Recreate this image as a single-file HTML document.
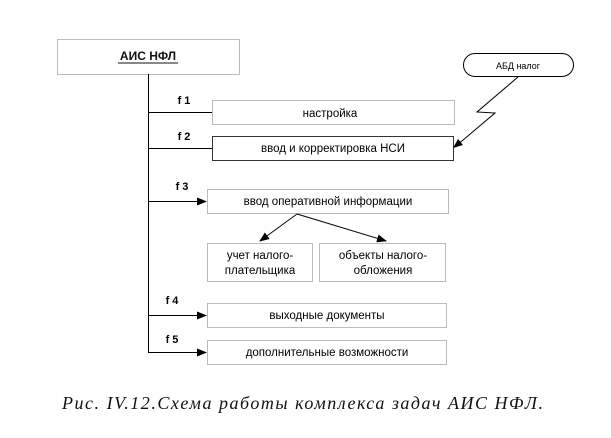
<!DOCTYPE html>
<html><head><meta charset="utf-8"><style>
html,body{margin:0;padding:0;background:#fff;}
svg{display:block;}
</style></head><body>
<svg width="611" height="438" viewBox="0 0 611 438" xmlns="http://www.w3.org/2000/svg" font-family="'Liberation Sans', sans-serif">
<defs>
<marker id="a" markerWidth="10" markerHeight="8" refX="9" refY="4" orient="auto" markerUnits="userSpaceOnUse">
<path d="M0,0 L10,4 L0,8 z" fill="#000"/>
</marker>
</defs>
<rect width="611" height="438" fill="#fff"/>
<rect x="57.5" y="39.5" width="182" height="35" fill="#fff" stroke="#bbb"/>
<text x="148" y="60" font-size="12" font-weight="bold" text-anchor="middle" fill="#111">АИС НФЛ</text>
<line x1="118" y1="63" x2="178" y2="63" stroke="#111" stroke-width="1"/>
<line x1="148.5" y1="74" x2="148.5" y2="352.5" stroke="#000"/>
<text x="184" y="104" font-size="11" font-weight="bold" text-anchor="middle">f 1</text>
<line x1="148" y1="112.5" x2="212" y2="112.5" stroke="#000"/>
<rect x="212.5" y="100.5" width="242" height="24" fill="#fff" stroke="#bbb"/>
<text x="330" y="117" font-size="11.5" text-anchor="middle">настройка</text>
<text x="184" y="140" font-size="11" font-weight="bold" text-anchor="middle">f 2</text>
<line x1="148" y1="148.5" x2="212" y2="148.5" stroke="#000"/>
<rect x="212.5" y="136.5" width="241" height="24" fill="#fff" stroke="#333"/>
<text x="333" y="152" font-size="11.5" text-anchor="middle">ввод и корректировка НСИ</text>
<text x="182" y="190" font-size="11" font-weight="bold" text-anchor="middle">f 3</text>
<line x1="148" y1="201.5" x2="206" y2="201.5" stroke="#000" marker-end="url(#a)"/>
<rect x="207.5" y="189.5" width="241" height="24" fill="#fff" stroke="#bbb"/>
<text x="328" y="205" font-size="11.5" text-anchor="middle">ввод оперативной информации</text>
<line x1="297" y1="214" x2="260" y2="241" stroke="#000" marker-end="url(#a)"/>
<line x1="297" y1="214" x2="386" y2="241" stroke="#000" marker-end="url(#a)"/>
<rect x="207.5" y="243.5" width="105" height="38" fill="#fff" stroke="#bbb"/>
<text x="260" y="259" font-size="11.5" text-anchor="middle">учет налого-</text>
<text x="260" y="274" font-size="11.5" text-anchor="middle">плательщика</text>
<rect x="319.5" y="243.5" width="126" height="38" fill="#fff" stroke="#bbb"/>
<text x="383" y="259" font-size="11.5" text-anchor="middle">объекты налого-</text>
<text x="383" y="274" font-size="11.5" text-anchor="middle">обложения</text>
<text x="172" y="304" font-size="11" font-weight="bold" text-anchor="middle">f 4</text>
<line x1="148" y1="315.5" x2="206" y2="315.5" stroke="#000" marker-end="url(#a)"/>
<rect x="207.5" y="303.5" width="239" height="24" fill="#fff" stroke="#bbb"/>
<text x="327" y="319" font-size="11.5" text-anchor="middle">выходные документы</text>
<text x="172" y="343" font-size="11" font-weight="bold" text-anchor="middle">f 5</text>
<line x1="148" y1="352.5" x2="206" y2="352.5" stroke="#000" marker-end="url(#a)"/>
<rect x="207.5" y="340.5" width="239" height="24" fill="#fff" stroke="#bbb"/>
<text x="327" y="356" font-size="11.5" text-anchor="middle">дополнительные возможности</text>
<rect x="463.5" y="53.5" width="110" height="23" rx="11.5" fill="#fff" stroke="#000"/>
<text x="518" y="69" font-size="9" text-anchor="middle">АБД налог</text>
<polyline points="518,77 477,112 495,113 456,146" fill="none" stroke="#000"/>
<path d="M453,148 L458,139 L463,145 z" fill="#000"/>
<text x="62" y="409" font-family="'Liberation Serif', serif" font-style="italic" font-size="18" textLength="481" lengthAdjust="spacing" fill="#111">Рис. IV.12.Схема работы комплекса задач АИС НФЛ.</text>
</svg>
</body></html>
